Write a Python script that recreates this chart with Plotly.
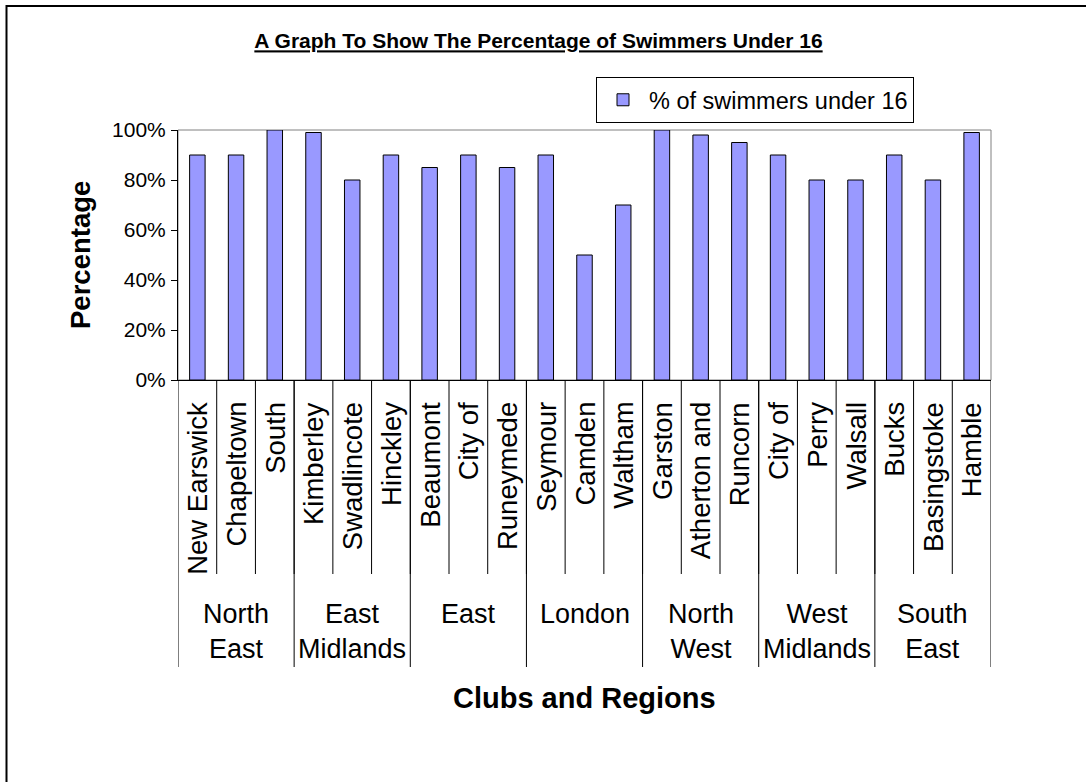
import plotly.graph_objects as go

clubs = ["New Earswick", "Chapeltown", "South", "Kimberley", "Swadlincote", "Hinckley",
         "Beaumont", "City of", "Runeymede", "Seymour", "Camden", "Waltham",
         "Garston", "Atherton and", "Runcorn", "City of", "Perry", "Walsall",
         "Bucks", "Basingstoke", "Hamble"]
club_region = ["North East"] * 3 + ["East Midlands"] * 3 + ["East"] * 3 + ["London"] * 3 + \
              ["North West"] * 3 + ["West Midlands"] * 3 + ["South East"] * 3
regions = ["North East", "East Midlands", "East", "London", "North West", "West Midlands", "South East"]
pct_under16 = [90, 90, 100, 99, 80, 90, 85, 90, 85, 90, 50, 70,
               100, 98, 95, 90, 80, 80, 90, 80, 99]
yticks = [0, 20, 40, 60, 80, 100]
ytick_text = ["0%", "20%", "40%", "60%", "80%", "100%"]

FONT = "Arial, Liberation Sans, sans-serif"

# plot area in pixels (matches the margins below)
L, R, T, B = 178, 991, 130, 380
W, H = 1086, 782

def px(p):
    return (p - L) / (R - L)

def py(p):
    return (B - p) / (B - T)

xs = list(range(len(clubs)))

fig = go.Figure(go.Bar(
    x=xs, y=pct_under16,
    name="% of swimmers under 16",
    marker=dict(color="#9999FF", line=dict(color="black", width=1)),
))

shapes = []
annotations = []

# plot area border (gray top/right)
shapes.append(dict(type="rect", xref="paper", yref="paper", x0=0, x1=1, y0=0, y1=1,
                   line=dict(color="#808080", width=1), layer="below"))

# category tick lines between clubs
for i in range(1, len(clubs)):
    shapes.append(dict(type="line", xref="x", yref="paper", x0=i - 0.5, x1=i - 0.5,
                       y0=0, y1=py(574), line=dict(color="black", width=1)))

# region dividers and labels
start = 0
for r in regions:
    n = club_region.count(r)
    end = start + n
    shapes.append(dict(type="line", xref="x", yref="paper", x0=start - 0.5, x1=start - 0.5,
                       y0=0, y1=py(667), line=dict(color="black", width=1)))
    annotations.append(dict(x=(start + end - 1) / 2, xref="x", y=py(597), yref="paper",
                            text=r.replace(" ", "<br>"), showarrow=False,
                            xanchor="center", yanchor="top",
                            font=dict(family=FONT, size=27, color="black")))
    start = end
shapes.append(dict(type="line", xref="x", yref="paper", x0=start - 0.5, x1=start - 0.5,
                   y0=0, y1=py(667), line=dict(color="black", width=1)))

# club labels
for i, c in enumerate(clubs):
    annotations.append(dict(x=i, xref="x", y=py(400), yref="paper", text=c,
                            textangle=-90, showarrow=False, xanchor="center", yanchor="top",
                            font=dict(family=FONT, size=27.5, color="black")))

# axis titles
annotations.append(dict(x=px(80), y=0.5, xref="paper", yref="paper", text="<b>Percentage</b>",
                        textangle=-90, showarrow=False, xanchor="center", yanchor="middle",
                        font=dict(family=FONT, size=27.5, color="black")))
annotations.append(dict(x=0.5, y=py(698), xref="paper", yref="paper", text="<b>Clubs and Regions</b>",
                        showarrow=False, xanchor="center", yanchor="middle",
                        font=dict(family=FONT, size=29, color="black")))

# outer chart border (only top and left visible)
shapes.append(dict(type="rect", xref="paper", yref="paper", x0=px(6.5), x1=px(W + 5),
                   y0=py(6), y1=py(H + 5), line=dict(color="black", width=2),
                   fillcolor="rgba(0,0,0,0)", layer="above"))

fig.update_layout(
    width=W, height=H,
    margin=dict(l=L, r=W - R, t=T, b=H - B, pad=0),
    paper_bgcolor="white", plot_bgcolor="white",
    bargap=0.6,
    title=dict(text="<b><u>A Graph To Show The Percentage of Swimmers Under 16</u></b>",
               x=538.5 / W, xanchor="center", xref="container",
               y=1 - 41 / H, yanchor="middle",
               font=dict(family=FONT, size=21, color="black")),
    showlegend=True,
    legend=dict(x=px(596), y=py(77), xanchor="left", yanchor="top",
                bordercolor="black", borderwidth=1, bgcolor="white",
                itemwidth=42,
                font=dict(family=FONT, size=23.5, color="black")),
    xaxis=dict(range=[-0.5, len(clubs) - 0.5], showticklabels=False, ticks="",
               showgrid=False, zeroline=False, showline=True, linecolor="black", linewidth=1),
    yaxis=dict(range=[0, 100], tickvals=yticks, ticktext=ytick_text, ticks="outside", ticklen=6,
               tickcolor="black", showgrid=False, zeroline=False, showline=True,
               linecolor="black", linewidth=1, ticklabelstandoff=1,
               tickfont=dict(family=FONT, size=21, color="black")),
    shapes=shapes,
    annotations=annotations,
    font=dict(family=FONT, color="black"),
)

fig.write_html("out.html", config={"displayModeBar": False},
               post_script="document.body.style.margin='0px';")
